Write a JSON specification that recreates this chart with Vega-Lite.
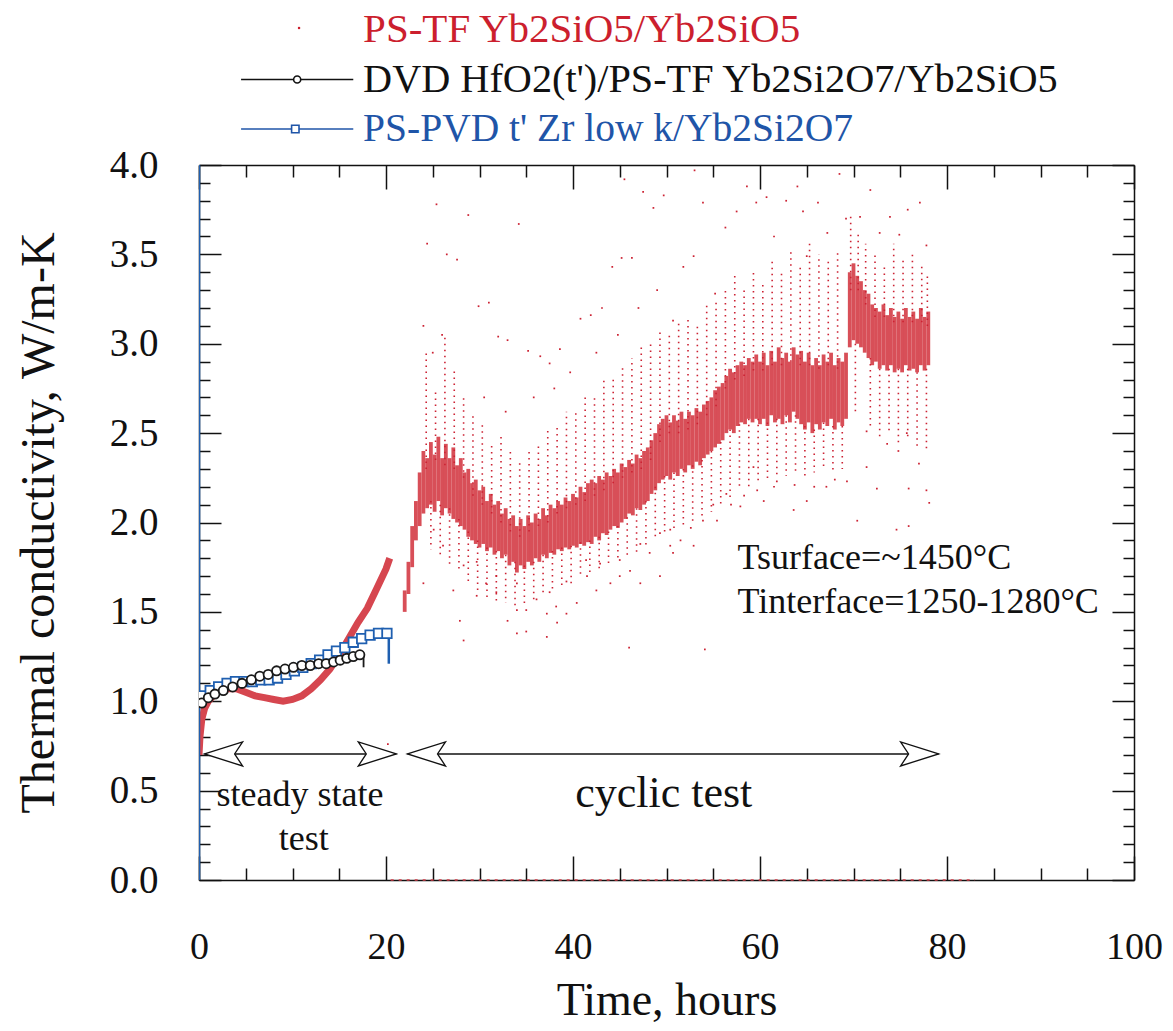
{
  "$schema": "https://vega.github.io/schema/vega-lite/v6.json",
  "width": 935,
  "height": 715,
  "autosize": "none",
  "padding": {"left": 199, "top": 165, "right": 39, "bottom": 151},
  "background": "white",
  "config": {"view": {"stroke": null}, "font": "Liberation Serif"},
  "datasets": {
    "legendItems": [
      {"series": "PS-TF Yb2SiO5/Yb2SiO5"},
      {"series": "DVD HfO2(t')/PS-TF Yb2Si2O7/Yb2SiO5"},
      {"series": "PS-PVD t' Zr low k/Yb2Si2O7"}
    ],
    "redCurve": [
      {"t": 0.0, "k": 0.70}, {"t": 0.1, "k": 0.80}, {"t": 0.3, "k": 0.90}, {"t": 0.6, "k": 0.96},
      {"t": 1.0, "k": 1.00}, {"t": 1.5, "k": 1.03}, {"t": 2.0, "k": 1.05}, {"t": 3.0, "k": 1.07},
      {"t": 4.0, "k": 1.07}, {"t": 5.0, "k": 1.05}, {"t": 6.0, "k": 1.03}, {"t": 7.0, "k": 1.02},
      {"t": 8.0, "k": 1.01}, {"t": 9.0, "k": 1.00}, {"t": 10.0, "k": 1.01}, {"t": 11.0, "k": 1.03},
      {"t": 12.0, "k": 1.07}, {"t": 13.0, "k": 1.12}, {"t": 14.0, "k": 1.18}, {"t": 15.0, "k": 1.26},
      {"t": 16.0, "k": 1.35}, {"t": 17.0, "k": 1.44}, {"t": 18.0, "k": 1.52}, {"t": 19.0, "k": 1.63},
      {"t": 20.0, "k": 1.74}, {"t": 20.4, "k": 1.80}
    ],
    "band": [
      {"t": 22.0, "lo": 1.50, "hi": 1.62}, {"t": 22.4, "lo": 1.60, "hi": 1.78}, {"t": 22.8, "lo": 1.75, "hi": 1.98},
      {"t": 23.2, "lo": 1.90, "hi": 2.12}, {"t": 23.6, "lo": 1.98, "hi": 2.28}, {"t": 24.0, "lo": 2.05, "hi": 2.40},
      {"t": 24.4, "lo": 2.08, "hi": 2.36}, {"t": 24.8, "lo": 2.10, "hi": 2.45}, {"t": 25.2, "lo": 2.06, "hi": 2.38},
      {"t": 25.6, "lo": 2.12, "hi": 2.48}, {"t": 26.0, "lo": 2.04, "hi": 2.36}, {"t": 26.4, "lo": 2.08, "hi": 2.44},
      {"t": 26.8, "lo": 2.05, "hi": 2.36}, {"t": 27.2, "lo": 2.02, "hi": 2.42}, {"t": 27.6, "lo": 2.00, "hi": 2.32},
      {"t": 28.0, "lo": 1.98, "hi": 2.36}, {"t": 28.4, "lo": 1.96, "hi": 2.28}, {"t": 28.8, "lo": 1.92, "hi": 2.30},
      {"t": 29.2, "lo": 1.90, "hi": 2.22}, {"t": 29.6, "lo": 1.88, "hi": 2.24}, {"t": 30.0, "lo": 1.86, "hi": 2.18},
      {"t": 30.4, "lo": 1.88, "hi": 2.20}, {"t": 30.8, "lo": 1.84, "hi": 2.12}, {"t": 31.2, "lo": 1.86, "hi": 2.16},
      {"t": 31.6, "lo": 1.82, "hi": 2.10}, {"t": 32.0, "lo": 1.84, "hi": 2.12}, {"t": 32.4, "lo": 1.80, "hi": 2.05},
      {"t": 32.8, "lo": 1.82, "hi": 2.08}, {"t": 33.2, "lo": 1.76, "hi": 2.02}, {"t": 33.6, "lo": 1.78, "hi": 2.04},
      {"t": 34.0, "lo": 1.72, "hi": 1.98}, {"t": 34.4, "lo": 1.76, "hi": 2.02}, {"t": 34.8, "lo": 1.74, "hi": 1.98},
      {"t": 35.2, "lo": 1.78, "hi": 2.04}, {"t": 35.6, "lo": 1.76, "hi": 2.00}, {"t": 36.0, "lo": 1.80, "hi": 2.05},
      {"t": 36.4, "lo": 1.78, "hi": 2.02}, {"t": 36.8, "lo": 1.82, "hi": 2.08}, {"t": 37.2, "lo": 1.80, "hi": 2.04},
      {"t": 37.6, "lo": 1.83, "hi": 2.10}, {"t": 38.0, "lo": 1.82, "hi": 2.08}, {"t": 38.4, "lo": 1.85, "hi": 2.12},
      {"t": 38.8, "lo": 1.84, "hi": 2.10}, {"t": 39.2, "lo": 1.86, "hi": 2.14}, {"t": 39.6, "lo": 1.85, "hi": 2.12},
      {"t": 40.0, "lo": 1.87, "hi": 2.16}, {"t": 40.4, "lo": 1.86, "hi": 2.14}, {"t": 40.8, "lo": 1.88, "hi": 2.20},
      {"t": 41.2, "lo": 1.87, "hi": 2.17}, {"t": 41.6, "lo": 1.89, "hi": 2.22}, {"t": 42.0, "lo": 1.88, "hi": 2.24},
      {"t": 42.4, "lo": 1.92, "hi": 2.22}, {"t": 42.8, "lo": 1.90, "hi": 2.26}, {"t": 43.2, "lo": 1.94, "hi": 2.24},
      {"t": 43.6, "lo": 1.93, "hi": 2.28}, {"t": 44.0, "lo": 1.96, "hi": 2.26}, {"t": 44.4, "lo": 1.98, "hi": 2.30},
      {"t": 44.8, "lo": 1.97, "hi": 2.28}, {"t": 45.2, "lo": 2.00, "hi": 2.33}, {"t": 45.6, "lo": 2.02, "hi": 2.31},
      {"t": 46.0, "lo": 2.05, "hi": 2.35}, {"t": 46.4, "lo": 2.04, "hi": 2.33}, {"t": 46.8, "lo": 2.08, "hi": 2.38},
      {"t": 47.2, "lo": 2.07, "hi": 2.36}, {"t": 47.6, "lo": 2.10, "hi": 2.40}, {"t": 48.0, "lo": 2.12, "hi": 2.42},
      {"t": 48.4, "lo": 2.16, "hi": 2.46}, {"t": 48.8, "lo": 2.18, "hi": 2.50}, {"t": 49.2, "lo": 2.22, "hi": 2.55},
      {"t": 49.6, "lo": 2.24, "hi": 2.58}, {"t": 50.0, "lo": 2.26, "hi": 2.60}, {"t": 50.4, "lo": 2.24, "hi": 2.56},
      {"t": 50.8, "lo": 2.28, "hi": 2.60}, {"t": 51.2, "lo": 2.26, "hi": 2.57}, {"t": 51.6, "lo": 2.30, "hi": 2.62},
      {"t": 52.0, "lo": 2.28, "hi": 2.58}, {"t": 52.4, "lo": 2.32, "hi": 2.62}, {"t": 52.8, "lo": 2.30, "hi": 2.60},
      {"t": 53.2, "lo": 2.34, "hi": 2.64}, {"t": 53.6, "lo": 2.32, "hi": 2.62}, {"t": 54.0, "lo": 2.36, "hi": 2.66},
      {"t": 54.4, "lo": 2.38, "hi": 2.68}, {"t": 54.8, "lo": 2.40, "hi": 2.70}, {"t": 55.2, "lo": 2.42, "hi": 2.74},
      {"t": 55.6, "lo": 2.44, "hi": 2.76}, {"t": 56.0, "lo": 2.46, "hi": 2.78}, {"t": 56.4, "lo": 2.50, "hi": 2.82},
      {"t": 56.8, "lo": 2.52, "hi": 2.86}, {"t": 57.2, "lo": 2.50, "hi": 2.84}, {"t": 57.6, "lo": 2.54, "hi": 2.88},
      {"t": 58.0, "lo": 2.56, "hi": 2.90}, {"t": 58.4, "lo": 2.55, "hi": 2.88}, {"t": 58.8, "lo": 2.58, "hi": 2.92},
      {"t": 59.2, "lo": 2.56, "hi": 2.90}, {"t": 59.6, "lo": 2.58, "hi": 2.94}, {"t": 60.0, "lo": 2.55, "hi": 2.90},
      {"t": 60.4, "lo": 2.58, "hi": 2.95}, {"t": 60.8, "lo": 2.54, "hi": 2.88}, {"t": 61.2, "lo": 2.60, "hi": 2.96},
      {"t": 61.6, "lo": 2.56, "hi": 2.90}, {"t": 62.0, "lo": 2.58, "hi": 2.98}, {"t": 62.4, "lo": 2.55, "hi": 2.92},
      {"t": 62.8, "lo": 2.60, "hi": 2.95}, {"t": 63.2, "lo": 2.56, "hi": 2.90}, {"t": 63.6, "lo": 2.62, "hi": 2.98},
      {"t": 64.0, "lo": 2.58, "hi": 2.94}, {"t": 64.4, "lo": 2.55, "hi": 2.96}, {"t": 64.8, "lo": 2.52, "hi": 2.90},
      {"t": 65.2, "lo": 2.56, "hi": 2.95}, {"t": 65.6, "lo": 2.50, "hi": 2.88}, {"t": 66.0, "lo": 2.55, "hi": 2.92},
      {"t": 66.4, "lo": 2.52, "hi": 2.88}, {"t": 66.8, "lo": 2.56, "hi": 2.94}, {"t": 67.2, "lo": 2.54, "hi": 2.90},
      {"t": 67.6, "lo": 2.58, "hi": 2.95}, {"t": 68.0, "lo": 2.52, "hi": 2.88}, {"t": 68.4, "lo": 2.56, "hi": 2.92},
      {"t": 68.8, "lo": 2.54, "hi": 2.90}, {"t": 69.2, "lo": 2.58, "hi": 2.95}, {"t": 69.6, "lo": 2.98, "hi": 3.40},
      {"t": 70.0, "lo": 3.02, "hi": 3.45}, {"t": 70.4, "lo": 3.00, "hi": 3.38}, {"t": 70.8, "lo": 2.98, "hi": 3.35},
      {"t": 71.2, "lo": 2.95, "hi": 3.30}, {"t": 71.6, "lo": 2.92, "hi": 3.28}, {"t": 72.0, "lo": 2.88, "hi": 3.22},
      {"t": 72.4, "lo": 2.90, "hi": 3.20}, {"t": 72.8, "lo": 2.86, "hi": 3.18}, {"t": 73.2, "lo": 2.88, "hi": 3.22},
      {"t": 73.6, "lo": 2.85, "hi": 3.16}, {"t": 74.0, "lo": 2.88, "hi": 3.20}, {"t": 74.4, "lo": 2.84, "hi": 3.15},
      {"t": 74.8, "lo": 2.86, "hi": 3.18}, {"t": 75.2, "lo": 2.84, "hi": 3.14}, {"t": 75.6, "lo": 2.88, "hi": 3.20},
      {"t": 76.0, "lo": 2.85, "hi": 3.15}, {"t": 76.4, "lo": 2.86, "hi": 3.18}, {"t": 76.8, "lo": 2.84, "hi": 3.14},
      {"t": 77.2, "lo": 2.88, "hi": 3.20}, {"t": 77.6, "lo": 2.85, "hi": 3.15}, {"t": 78.0, "lo": 2.88, "hi": 3.18}
    ],
    "streaks": [
      {"t": 24.3, "a": 2.30, "b": 2.95}, {"t": 25.3, "a": 2.35, "b": 2.75}, {"t": 26.3, "a": 2.32, "b": 3.05},
      {"t": 27.3, "a": 2.30, "b": 2.85}, {"t": 28.3, "a": 2.25, "b": 2.70}, {"t": 29.3, "a": 2.15, "b": 2.60},
      {"t": 30.3, "a": 2.10, "b": 2.55}, {"t": 31.3, "a": 2.05, "b": 2.45}, {"t": 32.3, "a": 2.00, "b": 2.50},
      {"t": 33.3, "a": 1.95, "b": 2.40}, {"t": 34.3, "a": 1.92, "b": 2.35}, {"t": 35.3, "a": 1.95, "b": 2.42},
      {"t": 36.3, "a": 1.98, "b": 2.45}, {"t": 37.3, "a": 2.00, "b": 2.52}, {"t": 38.3, "a": 2.05, "b": 2.55},
      {"t": 39.3, "a": 2.08, "b": 2.62}, {"t": 40.3, "a": 2.10, "b": 2.62}, {"t": 41.3, "a": 2.12, "b": 2.70},
      {"t": 42.3, "a": 2.15, "b": 2.72}, {"t": 43.3, "a": 2.18, "b": 2.80}, {"t": 44.3, "a": 2.22, "b": 2.82},
      {"t": 45.3, "a": 2.25, "b": 2.88}, {"t": 46.3, "a": 2.28, "b": 2.92}, {"t": 47.3, "a": 2.30, "b": 2.98},
      {"t": 48.3, "a": 2.35, "b": 3.02}, {"t": 49.3, "a": 2.45, "b": 3.08}, {"t": 50.3, "a": 2.50, "b": 3.05},
      {"t": 51.3, "a": 2.50, "b": 3.12}, {"t": 52.3, "a": 2.52, "b": 3.15}, {"t": 53.3, "a": 2.55, "b": 3.12},
      {"t": 54.3, "a": 2.60, "b": 3.22}, {"t": 55.3, "a": 2.65, "b": 3.25}, {"t": 56.3, "a": 2.75, "b": 3.32},
      {"t": 57.3, "a": 2.80, "b": 3.38}, {"t": 58.3, "a": 2.82, "b": 3.30}, {"t": 59.3, "a": 2.85, "b": 3.42},
      {"t": 60.3, "a": 2.85, "b": 3.35}, {"t": 61.3, "a": 2.88, "b": 3.48}, {"t": 62.3, "a": 2.88, "b": 3.40},
      {"t": 63.3, "a": 2.90, "b": 3.52}, {"t": 64.3, "a": 2.88, "b": 3.45}, {"t": 65.3, "a": 2.88, "b": 3.56},
      {"t": 66.3, "a": 2.86, "b": 3.50}, {"t": 67.3, "a": 2.88, "b": 3.46}, {"t": 68.3, "a": 2.86, "b": 3.52},
      {"t": 69.7, "a": 3.30, "b": 3.72}, {"t": 70.5, "a": 3.30, "b": 3.62}, {"t": 71.3, "a": 3.22, "b": 3.56},
      {"t": 72.3, "a": 3.15, "b": 3.50}, {"t": 73.3, "a": 3.15, "b": 3.45}, {"t": 74.3, "a": 3.12, "b": 3.56},
      {"t": 75.3, "a": 3.12, "b": 3.48}, {"t": 76.3, "a": 3.12, "b": 3.52}, {"t": 77.3, "a": 3.12, "b": 3.45},
      {"t": 77.9, "a": 3.10, "b": 3.40},
      {"t": 24.8, "a": 2.12, "b": 1.85}, {"t": 25.8, "a": 2.10, "b": 1.80}, {"t": 26.8, "a": 2.08, "b": 1.76},
      {"t": 27.8, "a": 2.02, "b": 1.72}, {"t": 28.8, "a": 1.95, "b": 1.66}, {"t": 29.8, "a": 1.90, "b": 1.62},
      {"t": 30.8, "a": 1.86, "b": 1.58}, {"t": 31.8, "a": 1.84, "b": 1.56}, {"t": 32.8, "a": 1.82, "b": 1.55},
      {"t": 33.8, "a": 1.78, "b": 1.52}, {"t": 34.8, "a": 1.76, "b": 1.54}, {"t": 35.8, "a": 1.78, "b": 1.57},
      {"t": 36.8, "a": 1.82, "b": 1.60}, {"t": 37.8, "a": 1.84, "b": 1.62}, {"t": 38.8, "a": 1.86, "b": 1.64},
      {"t": 39.8, "a": 1.87, "b": 1.66}, {"t": 40.8, "a": 1.89, "b": 1.69}, {"t": 41.8, "a": 1.90, "b": 1.72},
      {"t": 42.8, "a": 1.92, "b": 1.74}, {"t": 43.8, "a": 1.95, "b": 1.76}, {"t": 44.8, "a": 1.98, "b": 1.78},
      {"t": 45.8, "a": 2.03, "b": 1.80}, {"t": 46.8, "a": 2.08, "b": 1.83}, {"t": 47.8, "a": 2.12, "b": 1.86},
      {"t": 48.8, "a": 2.20, "b": 1.90}, {"t": 49.8, "a": 2.26, "b": 1.94}, {"t": 50.8, "a": 2.28, "b": 1.96},
      {"t": 51.8, "a": 2.30, "b": 1.98}, {"t": 52.8, "a": 2.32, "b": 2.00}, {"t": 53.8, "a": 2.35, "b": 2.03},
      {"t": 54.8, "a": 2.40, "b": 2.06}, {"t": 55.8, "a": 2.45, "b": 2.10}, {"t": 56.8, "a": 2.52, "b": 2.14},
      {"t": 57.8, "a": 2.55, "b": 2.18}, {"t": 58.8, "a": 2.58, "b": 2.20}, {"t": 59.8, "a": 2.58, "b": 2.22},
      {"t": 60.8, "a": 2.56, "b": 2.24}, {"t": 61.8, "a": 2.58, "b": 2.26}, {"t": 62.8, "a": 2.60, "b": 2.26},
      {"t": 63.8, "a": 2.60, "b": 2.28}, {"t": 64.8, "a": 2.54, "b": 2.26}, {"t": 65.8, "a": 2.52, "b": 2.28},
      {"t": 66.8, "a": 2.56, "b": 2.30}, {"t": 67.8, "a": 2.54, "b": 2.28}, {"t": 68.8, "a": 2.54, "b": 2.30},
      {"t": 70.2, "a": 3.00, "b": 2.60}, {"t": 71.8, "a": 2.92, "b": 2.52}, {"t": 72.8, "a": 2.86, "b": 2.48},
      {"t": 73.8, "a": 2.86, "b": 2.50}, {"t": 74.8, "a": 2.86, "b": 2.44}, {"t": 75.8, "a": 2.86, "b": 2.46},
      {"t": 76.8, "a": 2.84, "b": 2.42}, {"t": 77.8, "a": 2.86, "b": 2.40}
    ],
    "points": [
      {"series": "PS-TF Yb2SiO5/Yb2SiO5", "t": 20.2, "k": 0.76},
      {"series": "PS-TF Yb2SiO5/Yb2SiO5", "t": 24.4, "k": 3.56}, {"series": "PS-TF Yb2SiO5/Yb2SiO5", "t": 25.4, "k": 3.78},
      {"series": "PS-TF Yb2SiO5/Yb2SiO5", "t": 26.5, "k": 3.50}, {"series": "PS-TF Yb2SiO5/Yb2SiO5", "t": 27.6, "k": 3.47},
      {"series": "PS-TF Yb2SiO5/Yb2SiO5", "t": 28.8, "k": 3.72}, {"series": "PS-TF Yb2SiO5/Yb2SiO5", "t": 29.9, "k": 3.21},
      {"series": "PS-TF Yb2SiO5/Yb2SiO5", "t": 31.0, "k": 3.23}, {"series": "PS-TF Yb2SiO5/Yb2SiO5", "t": 32.0, "k": 3.04},
      {"series": "PS-TF Yb2SiO5/Yb2SiO5", "t": 33.0, "k": 3.02}, {"series": "PS-TF Yb2SiO5/Yb2SiO5", "t": 34.2, "k": 3.67},
      {"series": "PS-TF Yb2SiO5/Yb2SiO5", "t": 35.2, "k": 2.96}, {"series": "PS-TF Yb2SiO5/Yb2SiO5", "t": 36.5, "k": 2.93},
      {"series": "PS-TF Yb2SiO5/Yb2SiO5", "t": 37.5, "k": 2.89}, {"series": "PS-TF Yb2SiO5/Yb2SiO5", "t": 38.6, "k": 2.97},
      {"series": "PS-TF Yb2SiO5/Yb2SiO5", "t": 39.7, "k": 2.84}, {"series": "PS-TF Yb2SiO5/Yb2SiO5", "t": 40.8, "k": 3.14},
      {"series": "PS-TF Yb2SiO5/Yb2SiO5", "t": 41.9, "k": 3.16}, {"series": "PS-TF Yb2SiO5/Yb2SiO5", "t": 43.1, "k": 3.20},
      {"series": "PS-TF Yb2SiO5/Yb2SiO5", "t": 44.2, "k": 3.43}, {"series": "PS-TF Yb2SiO5/Yb2SiO5", "t": 45.2, "k": 3.48},
      {"series": "PS-TF Yb2SiO5/Yb2SiO5", "t": 46.3, "k": 3.48}, {"series": "PS-TF Yb2SiO5/Yb2SiO5", "t": 47.5, "k": 3.85},
      {"series": "PS-TF Yb2SiO5/Yb2SiO5", "t": 48.6, "k": 3.76}, {"series": "PS-TF Yb2SiO5/Yb2SiO5", "t": 49.7, "k": 3.83},
      {"series": "PS-TF Yb2SiO5/Yb2SiO5", "t": 24.0, "k": 3.10}, {"series": "PS-TF Yb2SiO5/Yb2SiO5", "t": 25.0, "k": 2.95},
      {"series": "PS-TF Yb2SiO5/Yb2SiO5", "t": 26.0, "k": 3.05}, {"series": "PS-TF Yb2SiO5/Yb2SiO5", "t": 30.5, "k": 2.70},
      {"series": "PS-TF Yb2SiO5/Yb2SiO5", "t": 32.8, "k": 2.62}, {"series": "PS-TF Yb2SiO5/Yb2SiO5", "t": 35.8, "k": 2.70},
      {"series": "PS-TF Yb2SiO5/Yb2SiO5", "t": 38.0, "k": 2.75}, {"series": "PS-TF Yb2SiO5/Yb2SiO5", "t": 42.5, "k": 2.95},
      {"series": "PS-TF Yb2SiO5/Yb2SiO5", "t": 44.8, "k": 3.05}, {"series": "PS-TF Yb2SiO5/Yb2SiO5", "t": 47.0, "k": 3.20},
      {"series": "PS-TF Yb2SiO5/Yb2SiO5", "t": 49.0, "k": 3.30}, {"series": "PS-TF Yb2SiO5/Yb2SiO5", "t": 45.5, "k": 3.92},
      {"series": "PS-TF Yb2SiO5/Yb2SiO5", "t": 53.0, "k": 3.97},
      {"series": "PS-TF Yb2SiO5/Yb2SiO5", "t": 50.7, "k": 3.13}, {"series": "PS-TF Yb2SiO5/Yb2SiO5", "t": 51.8, "k": 3.43},
      {"series": "PS-TF Yb2SiO5/Yb2SiO5", "t": 52.9, "k": 3.49}, {"series": "PS-TF Yb2SiO5/Yb2SiO5", "t": 53.9, "k": 3.79},
      {"series": "PS-TF Yb2SiO5/Yb2SiO5", "t": 55.2, "k": 3.28}, {"series": "PS-TF Yb2SiO5/Yb2SiO5", "t": 56.3, "k": 3.65},
      {"series": "PS-TF Yb2SiO5/Yb2SiO5", "t": 57.5, "k": 3.74}, {"series": "PS-TF Yb2SiO5/Yb2SiO5", "t": 58.6, "k": 3.88},
      {"series": "PS-TF Yb2SiO5/Yb2SiO5", "t": 59.6, "k": 3.79}, {"series": "PS-TF Yb2SiO5/Yb2SiO5", "t": 60.7, "k": 3.82},
      {"series": "PS-TF Yb2SiO5/Yb2SiO5", "t": 61.5, "k": 3.60}, {"series": "PS-TF Yb2SiO5/Yb2SiO5", "t": 62.8, "k": 3.80},
      {"series": "PS-TF Yb2SiO5/Yb2SiO5", "t": 64.0, "k": 3.88}, {"series": "PS-TF Yb2SiO5/Yb2SiO5", "t": 64.6, "k": 3.74},
      {"series": "PS-TF Yb2SiO5/Yb2SiO5", "t": 65.0, "k": 3.49}, {"series": "PS-TF Yb2SiO5/Yb2SiO5", "t": 66.2, "k": 3.79},
      {"series": "PS-TF Yb2SiO5/Yb2SiO5", "t": 67.2, "k": 3.62}, {"series": "PS-TF Yb2SiO5/Yb2SiO5", "t": 68.5, "k": 3.95},
      {"series": "PS-TF Yb2SiO5/Yb2SiO5", "t": 69.2, "k": 3.70}, {"series": "PS-TF Yb2SiO5/Yb2SiO5", "t": 70.7, "k": 3.71},
      {"series": "PS-TF Yb2SiO5/Yb2SiO5", "t": 71.8, "k": 3.86}, {"series": "PS-TF Yb2SiO5/Yb2SiO5", "t": 72.8, "k": 3.62},
      {"series": "PS-TF Yb2SiO5/Yb2SiO5", "t": 73.9, "k": 3.71}, {"series": "PS-TF Yb2SiO5/Yb2SiO5", "t": 74.9, "k": 3.61},
      {"series": "PS-TF Yb2SiO5/Yb2SiO5", "t": 75.8, "k": 3.75}, {"series": "PS-TF Yb2SiO5/Yb2SiO5", "t": 77.1, "k": 3.79},
      {"series": "PS-TF Yb2SiO5/Yb2SiO5", "t": 77.8, "k": 3.55},
      {"series": "PS-TF Yb2SiO5/Yb2SiO5", "t": 24.0, "k": 1.66}, {"series": "PS-TF Yb2SiO5/Yb2SiO5", "t": 25.1, "k": 1.96},
      {"series": "PS-TF Yb2SiO5/Yb2SiO5", "t": 26.1, "k": 1.87}, {"series": "PS-TF Yb2SiO5/Yb2SiO5", "t": 27.2, "k": 1.62},
      {"series": "PS-TF Yb2SiO5/Yb2SiO5", "t": 27.9, "k": 1.45}, {"series": "PS-TF Yb2SiO5/Yb2SiO5", "t": 28.3, "k": 1.76},
      {"series": "PS-TF Yb2SiO5/Yb2SiO5", "t": 28.3, "k": 1.34}, {"series": "PS-TF Yb2SiO5/Yb2SiO5", "t": 29.7, "k": 1.78},
      {"series": "PS-TF Yb2SiO5/Yb2SiO5", "t": 29.7, "k": 1.59}, {"series": "PS-TF Yb2SiO5/Yb2SiO5", "t": 30.7, "k": 1.66},
      {"series": "PS-TF Yb2SiO5/Yb2SiO5", "t": 31.8, "k": 1.70}, {"series": "PS-TF Yb2SiO5/Yb2SiO5", "t": 31.8, "k": 1.61},
      {"series": "PS-TF Yb2SiO5/Yb2SiO5", "t": 33.0, "k": 1.45}, {"series": "PS-TF Yb2SiO5/Yb2SiO5", "t": 34.0, "k": 1.66},
      {"series": "PS-TF Yb2SiO5/Yb2SiO5", "t": 34.0, "k": 1.51}, {"series": "PS-TF Yb2SiO5/Yb2SiO5", "t": 34.0, "k": 1.38},
      {"series": "PS-TF Yb2SiO5/Yb2SiO5", "t": 35.0, "k": 1.51}, {"series": "PS-TF Yb2SiO5/Yb2SiO5", "t": 35.0, "k": 1.39},
      {"series": "PS-TF Yb2SiO5/Yb2SiO5", "t": 36.1, "k": 1.57}, {"series": "PS-TF Yb2SiO5/Yb2SiO5", "t": 37.2, "k": 1.49},
      {"series": "PS-TF Yb2SiO5/Yb2SiO5", "t": 37.2, "k": 1.36}, {"series": "PS-TF Yb2SiO5/Yb2SiO5", "t": 37.5, "k": 1.61},
      {"series": "PS-TF Yb2SiO5/Yb2SiO5", "t": 38.2, "k": 1.53}, {"series": "PS-TF Yb2SiO5/Yb2SiO5", "t": 38.3, "k": 1.44},
      {"series": "PS-TF Yb2SiO5/Yb2SiO5", "t": 39.3, "k": 1.49}, {"series": "PS-TF Yb2SiO5/Yb2SiO5", "t": 39.3, "k": 1.67},
      {"series": "PS-TF Yb2SiO5/Yb2SiO5", "t": 40.4, "k": 1.55}, {"series": "PS-TF Yb2SiO5/Yb2SiO5", "t": 41.4, "k": 1.79},
      {"series": "PS-TF Yb2SiO5/Yb2SiO5", "t": 41.5, "k": 1.70}, {"series": "PS-TF Yb2SiO5/Yb2SiO5", "t": 42.5, "k": 1.62},
      {"series": "PS-TF Yb2SiO5/Yb2SiO5", "t": 42.9, "k": 1.77}, {"series": "PS-TF Yb2SiO5/Yb2SiO5", "t": 44.0, "k": 1.66},
      {"series": "PS-TF Yb2SiO5/Yb2SiO5", "t": 45.0, "k": 1.70}, {"series": "PS-TF Yb2SiO5/Yb2SiO5", "t": 45.0, "k": 1.79},
      {"series": "PS-TF Yb2SiO5/Yb2SiO5", "t": 46.0, "k": 1.30}, {"series": "PS-TF Yb2SiO5/Yb2SiO5", "t": 46.1, "k": 1.73},
      {"series": "PS-TF Yb2SiO5/Yb2SiO5", "t": 47.2, "k": 1.66}, {"series": "PS-TF Yb2SiO5/Yb2SiO5", "t": 47.2, "k": 1.88},
      {"series": "PS-TF Yb2SiO5/Yb2SiO5", "t": 48.2, "k": 1.83}, {"series": "PS-TF Yb2SiO5/Yb2SiO5", "t": 49.3, "k": 1.70},
      {"series": "PS-TF Yb2SiO5/Yb2SiO5", "t": 49.3, "k": 1.94}, {"series": "PS-TF Yb2SiO5/Yb2SiO5", "t": 50.4, "k": 1.87},
      {"series": "PS-TF Yb2SiO5/Yb2SiO5", "t": 50.4, "k": 1.96}, {"series": "PS-TF Yb2SiO5/Yb2SiO5", "t": 50.7, "k": 1.83},
      {"series": "PS-TF Yb2SiO5/Yb2SiO5", "t": 51.5, "k": 1.90}, {"series": "PS-TF Yb2SiO5/Yb2SiO5", "t": 52.6, "k": 1.97},
      {"series": "PS-TF Yb2SiO5/Yb2SiO5", "t": 52.9, "k": 1.87}, {"series": "PS-TF Yb2SiO5/Yb2SiO5", "t": 53.9, "k": 2.01},
      {"series": "PS-TF Yb2SiO5/Yb2SiO5", "t": 54.1, "k": 1.29}, {"series": "PS-TF Yb2SiO5/Yb2SiO5", "t": 55.0, "k": 2.10},
      {"series": "PS-TF Yb2SiO5/Yb2SiO5", "t": 55.4, "k": 2.01}, {"series": "PS-TF Yb2SiO5/Yb2SiO5", "t": 56.4, "k": 2.16},
      {"series": "PS-TF Yb2SiO5/Yb2SiO5", "t": 56.9, "k": 2.10}, {"series": "PS-TF Yb2SiO5/Yb2SiO5", "t": 57.9, "k": 2.09},
      {"series": "PS-TF Yb2SiO5/Yb2SiO5", "t": 58.3, "k": 2.15}, {"series": "PS-TF Yb2SiO5/Yb2SiO5", "t": 59.3, "k": 2.31},
      {"series": "PS-TF Yb2SiO5/Yb2SiO5", "t": 59.7, "k": 2.18}, {"series": "PS-TF Yb2SiO5/Yb2SiO5", "t": 60.4, "k": 2.12},
      {"series": "PS-TF Yb2SiO5/Yb2SiO5", "t": 61.5, "k": 2.20}, {"series": "PS-TF Yb2SiO5/Yb2SiO5", "t": 61.8, "k": 2.23},
      {"series": "PS-TF Yb2SiO5/Yb2SiO5", "t": 63.6, "k": 2.07}, {"series": "PS-TF Yb2SiO5/Yb2SiO5", "t": 63.7, "k": 2.21},
      {"series": "PS-TF Yb2SiO5/Yb2SiO5", "t": 65.0, "k": 2.12}, {"series": "PS-TF Yb2SiO5/Yb2SiO5", "t": 65.8, "k": 2.20},
      {"series": "PS-TF Yb2SiO5/Yb2SiO5", "t": 67.1, "k": 2.20}, {"series": "PS-TF Yb2SiO5/Yb2SiO5", "t": 68.0, "k": 2.24},
      {"series": "PS-TF Yb2SiO5/Yb2SiO5", "t": 69.3, "k": 2.23}, {"series": "PS-TF Yb2SiO5/Yb2SiO5", "t": 70.4, "k": 2.01},
      {"series": "PS-TF Yb2SiO5/Yb2SiO5", "t": 71.4, "k": 2.31}, {"series": "PS-TF Yb2SiO5/Yb2SiO5", "t": 71.4, "k": 2.51},
      {"series": "PS-TF Yb2SiO5/Yb2SiO5", "t": 72.5, "k": 2.19}, {"series": "PS-TF Yb2SiO5/Yb2SiO5", "t": 73.6, "k": 2.44},
      {"series": "PS-TF Yb2SiO5/Yb2SiO5", "t": 74.6, "k": 1.96}, {"series": "PS-TF Yb2SiO5/Yb2SiO5", "t": 74.8, "k": 2.40},
      {"series": "PS-TF Yb2SiO5/Yb2SiO5", "t": 75.7, "k": 2.50}, {"series": "PS-TF Yb2SiO5/Yb2SiO5", "t": 75.9, "k": 2.19},
      {"series": "PS-TF Yb2SiO5/Yb2SiO5", "t": 75.9, "k": 1.98}, {"series": "PS-TF Yb2SiO5/Yb2SiO5", "t": 77.0, "k": 2.33},
      {"series": "PS-TF Yb2SiO5/Yb2SiO5", "t": 77.8, "k": 2.18}, {"series": "PS-TF Yb2SiO5/Yb2SiO5", "t": 78.1, "k": 2.11},
      {"series": "PS-PVD t' Zr low k/Yb2Si2O7", "t": 0.4, "k": 1.03}, {"series": "PS-PVD t' Zr low k/Yb2Si2O7", "t": 1.2, "k": 1.06},
      {"series": "PS-PVD t' Zr low k/Yb2Si2O7", "t": 2.1, "k": 1.08}, {"series": "PS-PVD t' Zr low k/Yb2Si2O7", "t": 3.0, "k": 1.10},
      {"series": "PS-PVD t' Zr low k/Yb2Si2O7", "t": 3.9, "k": 1.11}, {"series": "PS-PVD t' Zr low k/Yb2Si2O7", "t": 4.8, "k": 1.11},
      {"series": "PS-PVD t' Zr low k/Yb2Si2O7", "t": 5.7, "k": 1.11}, {"series": "PS-PVD t' Zr low k/Yb2Si2O7", "t": 6.6, "k": 1.12},
      {"series": "PS-PVD t' Zr low k/Yb2Si2O7", "t": 7.5, "k": 1.12}, {"series": "PS-PVD t' Zr low k/Yb2Si2O7", "t": 8.4, "k": 1.13},
      {"series": "PS-PVD t' Zr low k/Yb2Si2O7", "t": 9.3, "k": 1.15}, {"series": "PS-PVD t' Zr low k/Yb2Si2O7", "t": 10.2, "k": 1.17},
      {"series": "PS-PVD t' Zr low k/Yb2Si2O7", "t": 11.1, "k": 1.19}, {"series": "PS-PVD t' Zr low k/Yb2Si2O7", "t": 12.0, "k": 1.21},
      {"series": "PS-PVD t' Zr low k/Yb2Si2O7", "t": 12.9, "k": 1.23}, {"series": "PS-PVD t' Zr low k/Yb2Si2O7", "t": 13.8, "k": 1.26},
      {"series": "PS-PVD t' Zr low k/Yb2Si2O7", "t": 14.7, "k": 1.28}, {"series": "PS-PVD t' Zr low k/Yb2Si2O7", "t": 15.6, "k": 1.30},
      {"series": "PS-PVD t' Zr low k/Yb2Si2O7", "t": 16.5, "k": 1.33}, {"series": "PS-PVD t' Zr low k/Yb2Si2O7", "t": 17.4, "k": 1.35},
      {"series": "PS-PVD t' Zr low k/Yb2Si2O7", "t": 18.3, "k": 1.37}, {"series": "PS-PVD t' Zr low k/Yb2Si2O7", "t": 19.2, "k": 1.38},
      {"series": "PS-PVD t' Zr low k/Yb2Si2O7", "t": 20.1, "k": 1.38},
      {"series": "DVD HfO2(t')/PS-TF Yb2Si2O7/Yb2SiO5", "t": 0.3, "k": 0.99}, {"series": "DVD HfO2(t')/PS-TF Yb2Si2O7/Yb2SiO5", "t": 1.0, "k": 1.02},
      {"series": "DVD HfO2(t')/PS-TF Yb2Si2O7/Yb2SiO5", "t": 1.7, "k": 1.04}, {"series": "DVD HfO2(t')/PS-TF Yb2Si2O7/Yb2SiO5", "t": 2.6, "k": 1.06},
      {"series": "DVD HfO2(t')/PS-TF Yb2Si2O7/Yb2SiO5", "t": 3.6, "k": 1.08}, {"series": "DVD HfO2(t')/PS-TF Yb2Si2O7/Yb2SiO5", "t": 4.6, "k": 1.10},
      {"series": "DVD HfO2(t')/PS-TF Yb2Si2O7/Yb2SiO5", "t": 5.6, "k": 1.12}, {"series": "DVD HfO2(t')/PS-TF Yb2Si2O7/Yb2SiO5", "t": 6.5, "k": 1.14},
      {"series": "DVD HfO2(t')/PS-TF Yb2Si2O7/Yb2SiO5", "t": 7.4, "k": 1.15}, {"series": "DVD HfO2(t')/PS-TF Yb2Si2O7/Yb2SiO5", "t": 8.3, "k": 1.17},
      {"series": "DVD HfO2(t')/PS-TF Yb2Si2O7/Yb2SiO5", "t": 9.2, "k": 1.18}, {"series": "DVD HfO2(t')/PS-TF Yb2Si2O7/Yb2SiO5", "t": 10.1, "k": 1.19},
      {"series": "DVD HfO2(t')/PS-TF Yb2Si2O7/Yb2SiO5", "t": 11.0, "k": 1.20}, {"series": "DVD HfO2(t')/PS-TF Yb2Si2O7/Yb2SiO5", "t": 11.9, "k": 1.20},
      {"series": "DVD HfO2(t')/PS-TF Yb2Si2O7/Yb2SiO5", "t": 12.8, "k": 1.21}, {"series": "DVD HfO2(t')/PS-TF Yb2Si2O7/Yb2SiO5", "t": 13.6, "k": 1.21},
      {"series": "DVD HfO2(t')/PS-TF Yb2Si2O7/Yb2SiO5", "t": 14.4, "k": 1.22}, {"series": "DVD HfO2(t')/PS-TF Yb2Si2O7/Yb2SiO5", "t": 15.1, "k": 1.23},
      {"series": "DVD HfO2(t')/PS-TF Yb2Si2O7/Yb2SiO5", "t": 15.8, "k": 1.24}, {"series": "DVD HfO2(t')/PS-TF Yb2Si2O7/Yb2SiO5", "t": 16.5, "k": 1.25},
      {"series": "DVD HfO2(t')/PS-TF Yb2Si2O7/Yb2SiO5", "t": 17.2, "k": 1.26}
    ],
    "pvdTails": [{"t": 0.0, "lo": 0.0, "hi": 4.0}, {"t": 20.3, "lo": 1.21, "hi": 1.39}],
    "dvdTails": [{"t": 17.6, "lo": 1.19, "hi": 1.26}],
    "zeroTrace": [{"t": 20.5, "t2": 83.0, "k": 0.0}],
    "arrows": [
      {"name": "steady state", "start": 0.6, "end": 21.1, "k": 0.705},
      {"name": "cyclic", "start": 22.3, "end": 79.1, "k": 0.705}
    ],
    "notesSteady": [
      {"text": "steady state", "t": 10.8, "k": 0.414},
      {"text": "test", "t": 11.2, "k": 0.168}
    ],
    "notesCyclic": [{"text": "cyclic test", "t": 49.7, "k": 0.41}],
    "notesTemp": [
      {"text": "Tsurface=~1450°C", "t": 57.6, "k": 1.74},
      {"text": "Tinterface=1250-1280°C", "t": 57.6, "k": 1.494}
    ]
  },
  "resolve": {"scale": {"y": "independent"}, "axis": {"x": "independent", "y": "independent"}},
  "layer": [
    {
      "data": {"name": "band"},
      "mark": {"type": "rule", "strokeWidth": 3.8, "color": "#d6464f", "opacity": 0.95, "clip": true},
      "encoding": {
        "x": {
          "field": "t", "type": "quantitative",
          "scale": {"domain": [0, 100], "nice": false},
          "axis": {
            "orient": "bottom",
            "values": [0, 5, 10, 15, 20, 25, 30, 35, 40, 45, 50, 55, 60, 65, 70, 75, 80, 85, 90, 95, 100],
            "labelExpr": "datum.value % 20 === 0 ? datum.label : ''",
            "tickSize": {"condition": {"test": "datum.value % 20 === 0", "value": -24}, "value": -12},
            "tickColor": "#111111", "tickWidth": 1.5,
            "domainColor": "#111111", "domainWidth": 1.5,
            "labelFont": "Liberation Serif", "labelFontSize": 38, "labelColor": "#111111",
            "labelPadding": 72, "labelFlush": false, "labelOverlap": false,
            "grid": false,
            "title": "Time, hours", "titleFont": "Liberation Serif", "titleFontSize": 46,
            "titleFontWeight": "normal", "titleColor": "#111111", "titlePadding": 0
          }
        },
        "y": {
          "field": "lo", "type": "quantitative",
          "scale": {"domain": [0, 4], "nice": false},
          "axis": {
            "orient": "left",
            "values": [0, 0.1, 0.2, 0.3, 0.4, 0.5, 0.6, 0.7, 0.8, 0.9, 1.0, 1.1, 1.2, 1.3, 1.4, 1.5, 1.6, 1.7, 1.8, 1.9, 2.0, 2.1, 2.2, 2.3, 2.4, 2.5, 2.6, 2.7, 2.8, 2.9, 3.0, 3.1, 3.2, 3.3, 3.4, 3.5, 3.6, 3.7, 3.8, 3.9, 4.0],
            "labelExpr": "round(datum.value * 10) % 5 === 0 ? format(datum.value, '.1f') : ''",
            "tickSize": {"condition": {"test": "round(datum.value * 10) % 5 === 0", "value": -22}, "value": -11},
            "tickColor": "#111111", "tickWidth": 1.5,
            "domainColor": "#111111", "domainWidth": 1.5,
            "labelFont": "Liberation Serif", "labelFontSize": 39, "labelColor": "#111111",
            "labelPadding": 63, "labelFlush": false, "labelOverlap": false,
            "grid": false,
            "title": "Thermal conductivity, W/m-K", "titleFont": "Liberation Serif", "titleFontSize": 48,
            "titleFontWeight": "normal", "titleColor": "#111111", "titlePadding": 46
          }
        },
        "y2": {"field": "hi"}
      }
    },
    {
      "data": {"name": "redCurve"},
      "mark": {"type": "line", "strokeWidth": 7, "color": "#d6464f", "clip": true},
      "encoding": {
        "x": {
          "field": "t", "type": "quantitative",
          "axis": {
            "orient": "top",
            "values": [0, 5, 10, 15, 20, 25, 30, 35, 40, 45, 50, 55, 60, 65, 70, 75, 80, 85, 90, 95, 100],
            "labels": false, "title": null, "grid": false,
            "tickSize": {"condition": {"test": "datum.value % 20 === 0", "value": -24}, "value": -12},
            "tickColor": "#111111", "tickWidth": 1.5, "domainColor": "#111111", "domainWidth": 1.5
          }
        },
        "y": {
          "field": "k", "type": "quantitative",
          "scale": {"domain": [0, 4], "nice": false},
          "axis": {
            "orient": "right",
            "values": [0, 0.1, 0.2, 0.3, 0.4, 0.5, 0.6, 0.7, 0.8, 0.9, 1.0, 1.1, 1.2, 1.3, 1.4, 1.5, 1.6, 1.7, 1.8, 1.9, 2.0, 2.1, 2.2, 2.3, 2.4, 2.5, 2.6, 2.7, 2.8, 2.9, 3.0, 3.1, 3.2, 3.3, 3.4, 3.5, 3.6, 3.7, 3.8, 3.9, 4.0],
            "labels": false, "title": null, "grid": false,
            "tickSize": {"condition": {"test": "round(datum.value * 10) % 5 === 0", "value": -22}, "value": -11},
            "tickColor": "#111111", "tickWidth": 1.5, "domainColor": "#111111", "domainWidth": 1.5
          }
        }
      }
    },
    {
      "data": {"name": "streaks"},
      "mark": {"type": "rule", "strokeWidth": 1.6, "color": "#cc2233", "strokeDash": [1.5, 4.5], "clip": true},
      "encoding": {
        "x": {"field": "t", "type": "quantitative", "axis": null},
        "y": {"field": "a", "type": "quantitative", "scale": {"domain": [0, 4], "nice": false}, "axis": null},
        "y2": {"field": "b"}
      }
    },
    {
      "data": {"name": "zeroTrace"},
      "mark": {"type": "rule", "strokeWidth": 1.5, "color": "#d23c48", "strokeDash": [3, 5], "clip": false},
      "encoding": {
        "x": {"field": "t", "type": "quantitative", "axis": null},
        "x2": {"field": "t2"},
        "y": {"field": "k", "type": "quantitative", "scale": {"domain": [0, 4], "nice": false}, "axis": null}
      }
    },
    {
      "data": {"name": "points"},
      "transform": [{"filter": {"field": "series", "equal": "PS-TF Yb2SiO5/Yb2SiO5"}}],
      "mark": {"type": "point", "shape": "square", "size": 3, "filled": true, "color": "#cc2233", "strokeWidth": 1.5, "opacity": 1, "clip": true},
      "encoding": {
        "x": {"field": "t", "type": "quantitative", "axis": null},
        "y": {"field": "k", "type": "quantitative", "scale": {"domain": [0, 4], "nice": false}, "axis": null}
      }
    },
    {
      "data": {"name": "points"},
      "transform": [{"filter": {"field": "series", "equal": "PS-PVD t' Zr low k/Yb2Si2O7"}}],
      "mark": {"type": "line", "strokeWidth": 3.2, "color": "#1f5fb0", "clip": true},
      "encoding": {
        "x": {"field": "t", "type": "quantitative", "axis": null},
        "y": {"field": "k", "type": "quantitative", "scale": {"domain": [0, 4], "nice": false}, "axis": null}
      }
    },
    {
      "data": {"name": "pvdTails"},
      "mark": {"type": "rule", "strokeWidth": 2.5, "color": "#1f5fb0", "clip": true},
      "encoding": {
        "x": {"field": "t", "type": "quantitative", "axis": null},
        "y": {"field": "lo", "type": "quantitative", "scale": {"domain": [0, 4], "nice": false}, "axis": null},
        "y2": {"field": "hi"}
      }
    },
    {
      "data": {"name": "points"},
      "transform": [{"filter": {"field": "series", "equal": "DVD HfO2(t')/PS-TF Yb2Si2O7/Yb2SiO5"}}],
      "mark": {"type": "line", "strokeWidth": 1.8, "color": "#1a1a1a", "clip": true},
      "encoding": {
        "x": {"field": "t", "type": "quantitative", "axis": null},
        "y": {"field": "k", "type": "quantitative", "scale": {"domain": [0, 4], "nice": false}, "axis": null}
      }
    },
    {
      "data": {"name": "dvdTails"},
      "mark": {"type": "rule", "strokeWidth": 1.8, "color": "#1a1a1a", "clip": true},
      "encoding": {
        "x": {"field": "t", "type": "quantitative", "axis": null},
        "y": {"field": "lo", "type": "quantitative", "scale": {"domain": [0, 4], "nice": false}, "axis": null},
        "y2": {"field": "hi"}
      }
    },
    {
      "data": {"name": "points"},
      "transform": [{"filter": {"field": "series", "equal": "PS-PVD t' Zr low k/Yb2Si2O7"}}],
      "mark": {"type": "point", "shape": "square", "size": 90, "filled": true, "fill": "#ffffff", "stroke": "#1f5fb0", "strokeWidth": 1.8, "opacity": 1, "clip": true},
      "encoding": {
        "x": {"field": "t", "type": "quantitative", "axis": null},
        "y": {"field": "k", "type": "quantitative", "scale": {"domain": [0, 4], "nice": false}, "axis": null}
      }
    },
    {
      "data": {"name": "points"},
      "transform": [{"filter": {"field": "series", "equal": "DVD HfO2(t')/PS-TF Yb2Si2O7/Yb2SiO5"}}],
      "mark": {"type": "point", "shape": "circle", "size": 85, "filled": true, "fill": "#ffffff", "stroke": "#1a1a1a", "strokeWidth": 1.8, "opacity": 1, "clip": true},
      "encoding": {
        "x": {"field": "t", "type": "quantitative", "axis": null},
        "y": {"field": "k", "type": "quantitative", "scale": {"domain": [0, 4], "nice": false}, "axis": null}
      }
    },
    {
      "data": {"name": "arrows"},
      "mark": {"type": "rule", "strokeWidth": 1.3, "color": "#111111"},
      "encoding": {
        "x": {"field": "start", "type": "quantitative", "axis": null},
        "x2": {"field": "end"},
        "y": {"field": "k", "type": "quantitative", "scale": {"domain": [0, 4], "nice": false}, "axis": null}
      }
    },
    {
      "data": {"name": "arrows"},
      "mark": {"type": "point", "shape": "M0,0L3.8,-1.2L3,0L3.8,1.2Z", "size": 400, "filled": true, "fill": "#ffffff", "stroke": "#111111", "strokeWidth": 1.3, "opacity": 1},
      "encoding": {
        "x": {"field": "start", "type": "quantitative", "axis": null},
        "y": {"field": "k", "type": "quantitative", "scale": {"domain": [0, 4], "nice": false}, "axis": null}
      }
    },
    {
      "data": {"name": "arrows"},
      "mark": {"type": "point", "shape": "M0,0L-3.8,-1.2L-3,0L-3.8,1.2Z", "size": 400, "filled": true, "fill": "#ffffff", "stroke": "#111111", "strokeWidth": 1.3, "opacity": 1},
      "encoding": {
        "x": {"field": "end", "type": "quantitative", "axis": null},
        "y": {"field": "k", "type": "quantitative", "scale": {"domain": [0, 4], "nice": false}, "axis": null}
      }
    },
    {
      "data": {"name": "notesSteady"},
      "mark": {"type": "text", "font": "Liberation Serif", "fontSize": 36, "align": "center", "baseline": "alphabetic", "color": "#111111"},
      "encoding": {
        "x": {"field": "t", "type": "quantitative", "axis": null},
        "y": {"field": "k", "type": "quantitative", "scale": {"domain": [0, 4], "nice": false}, "axis": null},
        "text": {"field": "text"}
      }
    },
    {
      "data": {"name": "notesCyclic"},
      "mark": {"type": "text", "font": "Liberation Serif", "fontSize": 44, "align": "center", "baseline": "alphabetic", "color": "#111111"},
      "encoding": {
        "x": {"field": "t", "type": "quantitative", "axis": null},
        "y": {"field": "k", "type": "quantitative", "scale": {"domain": [0, 4], "nice": false}, "axis": null},
        "text": {"field": "text"}
      }
    },
    {
      "data": {"name": "notesTemp"},
      "mark": {"type": "text", "font": "Liberation Serif", "fontSize": 36, "align": "left", "baseline": "alphabetic", "color": "#111111"},
      "encoding": {
        "x": {"field": "t", "type": "quantitative", "axis": null},
        "y": {"field": "k", "type": "quantitative", "scale": {"domain": [0, 4], "nice": false}, "axis": null},
        "text": {"field": "text"}
      }
    },
    {
      "data": {"name": "legendItems"},
      "transform": [{"filter": {"field": "series", "oneOf": ["DVD HfO2(t')/PS-TF Yb2Si2O7/Yb2SiO5", "PS-PVD t' Zr low k/Yb2Si2O7"]}}],
      "mark": {"type": "rule", "strokeWidth": 1.7, "clip": false},
      "encoding": {
        "x": {"datum": 4.5, "type": "quantitative", "axis": null},
        "x2": {"datum": 16.5},
        "y": {"field": "series", "type": "nominal", "axis": null,
              "scale": {"type": "point", "domain": ["PS-TF Yb2SiO5/Yb2SiO5", "DVD HfO2(t')/PS-TF Yb2Si2O7/Yb2SiO5", "PS-PVD t' Zr low k/Yb2Si2O7"], "range": [-135, -36], "padding": 0}},
        "color": {"field": "series", "type": "nominal", "legend": null,
                  "scale": {"domain": ["PS-TF Yb2SiO5/Yb2SiO5", "DVD HfO2(t')/PS-TF Yb2Si2O7/Yb2SiO5", "PS-PVD t' Zr low k/Yb2Si2O7"], "range": ["#cc1f2e", "#111111", "#1f55a8"]}}
      }
    },
    {
      "data": {"name": "legendItems"},
      "transform": [{"filter": {"field": "series", "equal": "DVD HfO2(t')/PS-TF Yb2Si2O7/Yb2SiO5"}}],
      "mark": {"type": "point", "shape": "circle", "size": 50, "filled": true, "fill": "#ffffff", "stroke": "#111111", "strokeWidth": 1.6, "opacity": 1, "clip": false},
      "encoding": {
        "x": {"datum": 10.5, "type": "quantitative", "axis": null},
        "y": {"field": "series", "type": "nominal", "axis": null,
              "scale": {"type": "point", "domain": ["PS-TF Yb2SiO5/Yb2SiO5", "DVD HfO2(t')/PS-TF Yb2Si2O7/Yb2SiO5", "PS-PVD t' Zr low k/Yb2Si2O7"], "range": [-135, -36], "padding": 0}}
      }
    },
    {
      "data": {"name": "legendItems"},
      "transform": [{"filter": {"field": "series", "equal": "PS-PVD t' Zr low k/Yb2Si2O7"}}],
      "mark": {"type": "point", "shape": "square", "size": 55, "filled": true, "fill": "#ffffff", "stroke": "#1f55a8", "strokeWidth": 1.6, "opacity": 1, "clip": false},
      "encoding": {
        "x": {"datum": 10.3, "type": "quantitative", "axis": null},
        "y": {"field": "series", "type": "nominal", "axis": null,
              "scale": {"type": "point", "domain": ["PS-TF Yb2SiO5/Yb2SiO5", "DVD HfO2(t')/PS-TF Yb2Si2O7/Yb2SiO5", "PS-PVD t' Zr low k/Yb2Si2O7"], "range": [-135, -36], "padding": 0}}
      }
    },
    {
      "data": {"name": "legendItems"},
      "transform": [{"filter": {"field": "series", "equal": "PS-TF Yb2SiO5/Yb2SiO5"}}],
      "mark": {"type": "point", "shape": "square", "size": 5, "filled": true, "color": "#cc1f2e", "opacity": 1, "clip": false},
      "encoding": {
        "x": {"datum": 10.7, "type": "quantitative", "axis": null},
        "y": {"field": "series", "type": "nominal", "axis": null,
              "scale": {"type": "point", "domain": ["PS-TF Yb2SiO5/Yb2SiO5", "DVD HfO2(t')/PS-TF Yb2Si2O7/Yb2SiO5", "PS-PVD t' Zr low k/Yb2Si2O7"], "range": [-137, -36], "padding": 0}}
      }
    },
    {
      "data": {"name": "legendItems"},
      "mark": {"type": "text", "font": "Liberation Serif", "align": "left", "baseline": "middle", "clip": false},
      "encoding": {
        "x": {"datum": 17.55, "type": "quantitative", "axis": null},
        "y": {"field": "series", "type": "nominal", "axis": null,
              "scale": {"type": "point", "domain": ["PS-TF Yb2SiO5/Yb2SiO5", "DVD HfO2(t')/PS-TF Yb2Si2O7/Yb2SiO5", "PS-PVD t' Zr low k/Yb2Si2O7"], "range": [-135, -36], "padding": 0}},
        "text": {"field": "series"},
        "size": {"field": "series", "type": "nominal", "legend": null,
                 "scale": {"domain": ["PS-TF Yb2SiO5/Yb2SiO5", "DVD HfO2(t')/PS-TF Yb2Si2O7/Yb2SiO5", "PS-PVD t' Zr low k/Yb2Si2O7"], "range": [41, 39.5, 38]}},
        "color": {"field": "series", "type": "nominal", "legend": null,
                  "scale": {"domain": ["PS-TF Yb2SiO5/Yb2SiO5", "DVD HfO2(t')/PS-TF Yb2Si2O7/Yb2SiO5", "PS-PVD t' Zr low k/Yb2Si2O7"], "range": ["#cc1f2e", "#111111", "#1f55a8"]}}
      }
    }
  ]
}
